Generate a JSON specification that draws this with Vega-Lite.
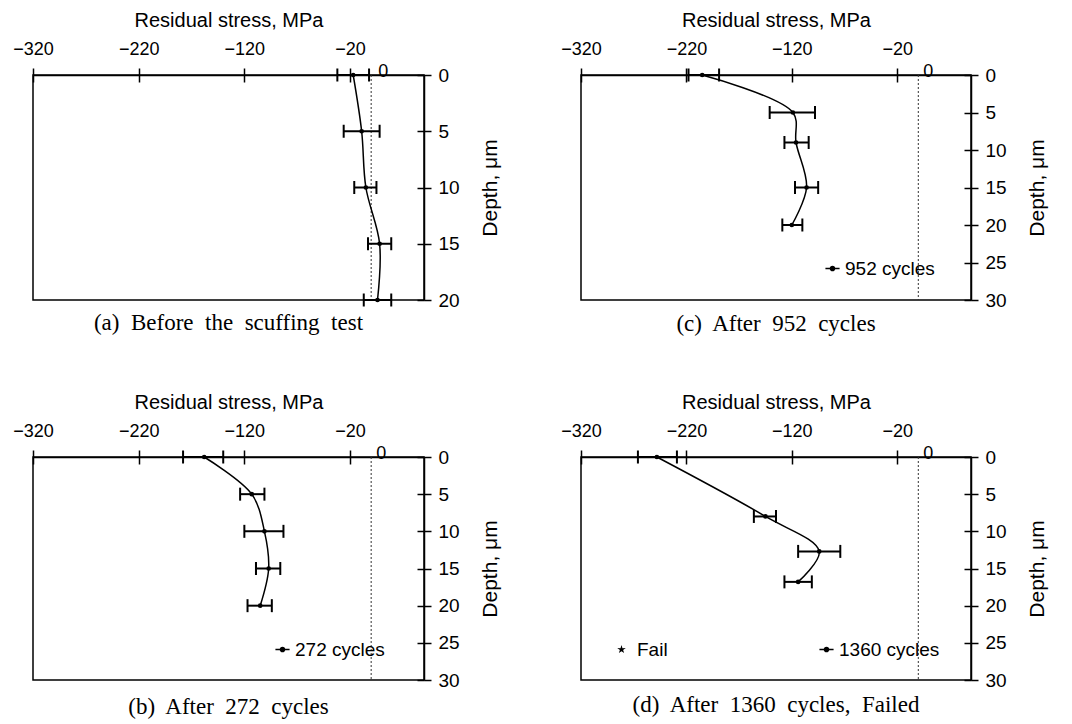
{
  "$schema": "https://vega.github.io/schema/vega-lite/v6.json",
  "padding": {"left": 11, "top": 9, "right": 5, "bottom": 5},
  "config": {
    "view": {"stroke": "black", "strokeWidth": 1.5},
    "font": "Liberation Sans",
    "axis": {"labelFont": "Liberation Sans", "titleFont": "Liberation Sans", "labelFontSize": 18, "titleFontSize": 20, "titleFontWeight": "normal", "labelColor": "black", "titleColor": "black", "tickColor": "black", "domainColor": "black", "ticks": true, "tickWidth": 1.5, "domainWidth": 1.5, "zindex": 1, "grid": true, "gridDash": [7, 1000], "gridColor": "black", "gridWidth": 1.5, "gridOpacity": 1},
    "axisX": {"labelFlush": false, "tickSize": 7, "labelPadding": 10, "titlePadding": 10},
    "axisY": {"labelFontSize": 19, "titleFontSize": 21, "tickSize": 7, "labelPadding": 7, "titlePadding": 20, "titleAngle": 270, "titleBaseline": "top"},
    "legend": {"labelFont": "Liberation Sans", "labelFontSize": 19, "labelColor": "black"}
  },
  "datasets": {
    "a": [
      {"depth": 0, "stress": -17, "lo": -32, "hi": -2},
      {"depth": 5, "stress": -9, "lo": -26, "hi": 8},
      {"depth": 10, "stress": -5, "lo": -16, "hi": 5},
      {"depth": 15, "stress": 8, "lo": -3, "hi": 19},
      {"depth": 20, "stress": 6, "lo": -7, "hi": 19}
    ],
    "b": [
      {"depth": 0, "stress": -158, "lo": -178, "hi": -140, "series": "272 cycles"},
      {"depth": 5, "stress": -113, "lo": -124, "hi": -101, "series": "272 cycles"},
      {"depth": 10, "stress": -101, "lo": -120, "hi": -83, "series": "272 cycles"},
      {"depth": 15, "stress": -97, "lo": -109, "hi": -86, "series": "272 cycles"},
      {"depth": 20, "stress": -105, "lo": -117, "hi": -94, "series": "272 cycles"}
    ],
    "c": [
      {"depth": 0, "stress": -205, "lo": -218, "hi": -189, "series": "952 cycles"},
      {"depth": 5, "stress": -119, "lo": -141, "hi": -98, "series": "952 cycles"},
      {"depth": 9, "stress": -116, "lo": -127, "hi": -104, "series": "952 cycles"},
      {"depth": 15, "stress": -106, "lo": -117, "hi": -95, "series": "952 cycles"},
      {"depth": 20, "stress": -120, "lo": -129, "hi": -110, "series": "952 cycles"}
    ],
    "d": [
      {"depth": 0, "stress": -248, "lo": -266, "hi": -229, "series": "1360 cycles"},
      {"depth": 8, "stress": -145, "lo": -156, "hi": -135, "series": "1360 cycles"},
      {"depth": 12.7, "stress": -94, "lo": -114, "hi": -74, "series": "1360 cycles"},
      {"depth": 16.8, "stress": -114, "lo": -127, "hi": -101, "series": "1360 cycles"}
    ],
    "zero": [{"ref": 0, "label": "0"}]
  },
  "columns": 2,
  "spacing": {"row": 54, "column": 58},
  "resolve": {"scale": {"x": "independent", "y": "independent", "color": "independent", "shape": "independent"}},
  "concat": [
    {
      "width": 391, "height": 225,
      "data": {"name": "a"},
      "title": {"text": "(a)\u00a0 Before\u00a0 the\u00a0 scuffing\u00a0 test", "orient": "bottom", "font": "Liberation Serif", "fontSize": 23, "fontWeight": "normal", "frame": "group", "anchor": "middle", "offset": 1, "color": "black"},
      "layer": [
        {"data": {"name": "zero"}, "mark": {"type": "rule", "strokeDash": [2, 2], "strokeWidth": 1, "color": "#333"}, "encoding": {"x": {"field": "ref", "type": "quantitative", "scale": {"domain": [-320, 50], "nice": false, "zero": false}, "axis": {"orient": "top", "values": [-320, -220, -120, -20], "title": "Residual stress, MPa", "encode": {"ticks": {"update": {"y2": {"value": 7}}}}}}}},
        {"mark": {"type": "line", "interpolate": "catmull-rom", "color": "black", "strokeWidth": 1.5}, "encoding": {"x": {"field": "stress", "type": "quantitative", "scale": {"domain": [-320, 50], "nice": false, "zero": false}, "axis": {"orient": "top", "values": [-320, -220, -120, -20], "title": "Residual stress, MPa", "encode": {"ticks": {"update": {"y2": {"value": 7}}}}}}, "y": {"field": "depth", "type": "quantitative", "scale": {"domain": [0, 20], "reverse": true, "nice": false, "zero": false}, "axis": {"orient": "right", "values": [0, 5, 10, 15, 20], "title": "Depth, \u03bcm", "encode": {"ticks": {"update": {"x2": {"value": -7}}}}}}, "order": {"field": "depth", "type": "quantitative"}}},
        {"mark": {"type": "rule", "color": "black", "strokeWidth": 2}, "encoding": {"x": {"field": "lo", "type": "quantitative", "scale": {"domain": [-320, 50], "nice": false, "zero": false}, "axis": {"orient": "top", "values": [-320, -220, -120, -20], "title": "Residual stress, MPa", "encode": {"ticks": {"update": {"y2": {"value": 7}}}}}}, "x2": {"field": "hi"}, "y": {"field": "depth", "type": "quantitative", "scale": {"domain": [0, 20], "reverse": true, "nice": false, "zero": false}, "axis": {"orient": "right", "values": [0, 5, 10, 15, 20], "title": "Depth, \u03bcm", "encode": {"ticks": {"update": {"x2": {"value": -7}}}}}}}},
        {"mark": {"type": "point", "shape": "M0,-1V1", "size": 169, "strokeWidth": 2, "color": "black", "opacity": 1}, "encoding": {"x": {"field": "lo", "type": "quantitative", "scale": {"domain": [-320, 50], "nice": false, "zero": false}, "axis": {"orient": "top", "values": [-320, -220, -120, -20], "title": "Residual stress, MPa", "encode": {"ticks": {"update": {"y2": {"value": 7}}}}}}, "y": {"field": "depth", "type": "quantitative", "scale": {"domain": [0, 20], "reverse": true, "nice": false, "zero": false}, "axis": {"orient": "right", "values": [0, 5, 10, 15, 20], "title": "Depth, \u03bcm", "encode": {"ticks": {"update": {"x2": {"value": -7}}}}}}}},
        {"mark": {"type": "point", "shape": "M0,-1V1", "size": 169, "strokeWidth": 2, "color": "black", "opacity": 1}, "encoding": {"x": {"field": "hi", "type": "quantitative", "scale": {"domain": [-320, 50], "nice": false, "zero": false}, "axis": {"orient": "top", "values": [-320, -220, -120, -20], "title": "Residual stress, MPa", "encode": {"ticks": {"update": {"y2": {"value": 7}}}}}}, "y": {"field": "depth", "type": "quantitative", "scale": {"domain": [0, 20], "reverse": true, "nice": false, "zero": false}, "axis": {"orient": "right", "values": [0, 5, 10, 15, 20], "title": "Depth, \u03bcm", "encode": {"ticks": {"update": {"x2": {"value": -7}}}}}}}},
        {"mark": {"type": "point", "filled": true, "size": 22, "color": "black", "opacity": 1}, "encoding": {"x": {"field": "stress", "type": "quantitative", "scale": {"domain": [-320, 50], "nice": false, "zero": false}, "axis": {"orient": "top", "values": [-320, -220, -120, -20], "title": "Residual stress, MPa", "encode": {"ticks": {"update": {"y2": {"value": 7}}}}}}, "y": {"field": "depth", "type": "quantitative", "scale": {"domain": [0, 20], "reverse": true, "nice": false, "zero": false}, "axis": {"orient": "right", "values": [0, 5, 10, 15, 20], "title": "Depth, \u03bcm", "encode": {"ticks": {"update": {"x2": {"value": -7}}}}}}}},
        {"data": {"name": "zero"}, "mark": {"type": "text", "dx": 12, "dy": -3, "fontSize": 18, "font": "Liberation Sans", "baseline": "middle", "color": "black"}, "encoding": {"text": {"field": "label"}, "x": {"field": "ref", "type": "quantitative", "scale": {"domain": [-320, 50], "nice": false, "zero": false}, "axis": {"orient": "top", "values": [-320, -220, -120, -20], "title": "Residual stress, MPa", "encode": {"ticks": {"update": {"y2": {"value": 7}}}}}}, "y": {"field": "ref", "type": "quantitative", "scale": {"domain": [0, 20], "reverse": true, "nice": false, "zero": false}, "axis": {"orient": "right", "values": [0, 5, 10, 15, 20], "title": "Depth, \u03bcm", "encode": {"ticks": {"update": {"x2": {"value": -7}}}}}}}}
      ]
    },
    {
      "width": 390, "height": 225,
      "data": {"name": "c"},
      "title": {"text": "(c)\u00a0 After\u00a0 952\u00a0 cycles", "orient": "bottom", "font": "Liberation Serif", "fontSize": 23, "fontWeight": "normal", "frame": "group", "anchor": "middle", "offset": 3, "color": "black"},
      "layer": [
        {"data": {"name": "zero"}, "mark": {"type": "rule", "strokeDash": [2, 2], "strokeWidth": 1, "color": "#333"}, "encoding": {"x": {"field": "ref", "type": "quantitative", "scale": {"domain": [-320, 50], "nice": false, "zero": false}, "axis": {"orient": "top", "values": [-320, -220, -120, -20], "title": "Residual stress, MPa", "encode": {"ticks": {"update": {"y2": {"value": 7}}}}}}}},
        {"mark": {"type": "line", "interpolate": "catmull-rom", "strokeWidth": 1.5}, "encoding": {"x": {"field": "stress", "type": "quantitative", "scale": {"domain": [-320, 50], "nice": false, "zero": false}, "axis": {"orient": "top", "values": [-320, -220, -120, -20], "title": "Residual stress, MPa", "encode": {"ticks": {"update": {"y2": {"value": 7}}}}}}, "y": {"field": "depth", "type": "quantitative", "scale": {"domain": [0, 30], "reverse": true, "nice": false, "zero": false}, "axis": {"orient": "right", "values": [0, 5, 10, 15, 20, 25, 30], "title": "Depth, \u03bcm", "encode": {"ticks": {"update": {"x2": {"value": -7}}}}}}, "order": {"field": "depth", "type": "quantitative"}, "color": {"field": "series", "type": "nominal", "scale": {"range": ["black"]}, "legend": {"orient": "none", "legendX": 242, "legendY": 184, "title": null, "symbolType": "M-1,0H1M0.3,0A0.3,0.3,0,1,1,-0.3,0A0.3,0.3,0,1,1,0.3,0Z", "symbolSize": 200, "labelOffset": 3, "encode": {"symbols": {"update": {"fill": {"value": "black"}, "stroke": {"value": "black"}, "strokeWidth": {"value": 1.5}, "opacity": {"value": 1}}}}}}}},
        {"mark": {"type": "rule", "color": "black", "strokeWidth": 2}, "encoding": {"x": {"field": "lo", "type": "quantitative", "scale": {"domain": [-320, 50], "nice": false, "zero": false}, "axis": {"orient": "top", "values": [-320, -220, -120, -20], "title": "Residual stress, MPa", "encode": {"ticks": {"update": {"y2": {"value": 7}}}}}}, "x2": {"field": "hi"}, "y": {"field": "depth", "type": "quantitative", "scale": {"domain": [0, 30], "reverse": true, "nice": false, "zero": false}, "axis": {"orient": "right", "values": [0, 5, 10, 15, 20, 25, 30], "title": "Depth, \u03bcm", "encode": {"ticks": {"update": {"x2": {"value": -7}}}}}}}},
        {"mark": {"type": "point", "shape": "M0,-1V1", "size": 169, "strokeWidth": 2, "color": "black", "opacity": 1}, "encoding": {"x": {"field": "lo", "type": "quantitative", "scale": {"domain": [-320, 50], "nice": false, "zero": false}, "axis": {"orient": "top", "values": [-320, -220, -120, -20], "title": "Residual stress, MPa", "encode": {"ticks": {"update": {"y2": {"value": 7}}}}}}, "y": {"field": "depth", "type": "quantitative", "scale": {"domain": [0, 30], "reverse": true, "nice": false, "zero": false}, "axis": {"orient": "right", "values": [0, 5, 10, 15, 20, 25, 30], "title": "Depth, \u03bcm", "encode": {"ticks": {"update": {"x2": {"value": -7}}}}}}}},
        {"mark": {"type": "point", "shape": "M0,-1V1", "size": 169, "strokeWidth": 2, "color": "black", "opacity": 1}, "encoding": {"x": {"field": "hi", "type": "quantitative", "scale": {"domain": [-320, 50], "nice": false, "zero": false}, "axis": {"orient": "top", "values": [-320, -220, -120, -20], "title": "Residual stress, MPa", "encode": {"ticks": {"update": {"y2": {"value": 7}}}}}}, "y": {"field": "depth", "type": "quantitative", "scale": {"domain": [0, 30], "reverse": true, "nice": false, "zero": false}, "axis": {"orient": "right", "values": [0, 5, 10, 15, 20, 25, 30], "title": "Depth, \u03bcm", "encode": {"ticks": {"update": {"x2": {"value": -7}}}}}}}},
        {"mark": {"type": "point", "filled": true, "size": 22, "color": "black", "opacity": 1}, "encoding": {"x": {"field": "stress", "type": "quantitative", "scale": {"domain": [-320, 50], "nice": false, "zero": false}, "axis": {"orient": "top", "values": [-320, -220, -120, -20], "title": "Residual stress, MPa", "encode": {"ticks": {"update": {"y2": {"value": 7}}}}}}, "y": {"field": "depth", "type": "quantitative", "scale": {"domain": [0, 30], "reverse": true, "nice": false, "zero": false}, "axis": {"orient": "right", "values": [0, 5, 10, 15, 20, 25, 30], "title": "Depth, \u03bcm", "encode": {"ticks": {"update": {"x2": {"value": -7}}}}}}}},
        {"data": {"name": "zero"}, "mark": {"type": "text", "dx": 10, "dy": -3, "fontSize": 18, "font": "Liberation Sans", "baseline": "middle", "color": "black"}, "encoding": {"text": {"field": "label"}, "x": {"field": "ref", "type": "quantitative", "scale": {"domain": [-320, 50], "nice": false, "zero": false}, "axis": {"orient": "top", "values": [-320, -220, -120, -20], "title": "Residual stress, MPa", "encode": {"ticks": {"update": {"y2": {"value": 7}}}}}}, "y": {"field": "ref", "type": "quantitative", "scale": {"domain": [0, 30], "reverse": true, "nice": false, "zero": false}, "axis": {"orient": "right", "values": [0, 5, 10, 15, 20, 25, 30], "title": "Depth, \u03bcm", "encode": {"ticks": {"update": {"x2": {"value": -7}}}}}}}}
      ]
    },
    {
      "width": 391, "height": 223,
      "data": {"name": "b"},
      "title": {"text": "(b)\u00a0 After\u00a0 272\u00a0 cycles", "orient": "bottom", "font": "Liberation Serif", "fontSize": 23, "fontWeight": "normal", "frame": "group", "anchor": "middle", "offset": 6, "color": "black"},
      "layer": [
        {"data": {"name": "zero"}, "mark": {"type": "rule", "strokeDash": [2, 2], "strokeWidth": 1, "color": "#333"}, "encoding": {"x": {"field": "ref", "type": "quantitative", "scale": {"domain": [-320, 50], "nice": false, "zero": false}, "axis": {"orient": "top", "values": [-320, -220, -120, -20], "title": "Residual stress, MPa", "encode": {"ticks": {"update": {"y2": {"value": 7}}}}}}}},
        {"mark": {"type": "line", "interpolate": "catmull-rom", "strokeWidth": 1.5}, "encoding": {"x": {"field": "stress", "type": "quantitative", "scale": {"domain": [-320, 50], "nice": false, "zero": false}, "axis": {"orient": "top", "values": [-320, -220, -120, -20], "title": "Residual stress, MPa", "encode": {"ticks": {"update": {"y2": {"value": 7}}}}}}, "y": {"field": "depth", "type": "quantitative", "scale": {"domain": [0, 30], "reverse": true, "nice": false, "zero": false}, "axis": {"orient": "right", "values": [0, 5, 10, 15, 20, 25, 30], "title": "Depth, \u03bcm", "encode": {"ticks": {"update": {"x2": {"value": -7}}}}}}, "order": {"field": "depth", "type": "quantitative"}, "color": {"field": "series", "type": "nominal", "scale": {"range": ["black"]}, "legend": {"orient": "none", "legendX": 240, "legendY": 183, "title": null, "symbolType": "M-1,0H1M0.3,0A0.3,0.3,0,1,1,-0.3,0A0.3,0.3,0,1,1,0.3,0Z", "symbolSize": 200, "labelOffset": 3, "encode": {"symbols": {"update": {"fill": {"value": "black"}, "stroke": {"value": "black"}, "strokeWidth": {"value": 1.5}, "opacity": {"value": 1}}}}}}}},
        {"mark": {"type": "rule", "color": "black", "strokeWidth": 2}, "encoding": {"x": {"field": "lo", "type": "quantitative", "scale": {"domain": [-320, 50], "nice": false, "zero": false}, "axis": {"orient": "top", "values": [-320, -220, -120, -20], "title": "Residual stress, MPa", "encode": {"ticks": {"update": {"y2": {"value": 7}}}}}}, "x2": {"field": "hi"}, "y": {"field": "depth", "type": "quantitative", "scale": {"domain": [0, 30], "reverse": true, "nice": false, "zero": false}, "axis": {"orient": "right", "values": [0, 5, 10, 15, 20, 25, 30], "title": "Depth, \u03bcm", "encode": {"ticks": {"update": {"x2": {"value": -7}}}}}}}},
        {"mark": {"type": "point", "shape": "M0,-1V1", "size": 169, "strokeWidth": 2, "color": "black", "opacity": 1}, "encoding": {"x": {"field": "lo", "type": "quantitative", "scale": {"domain": [-320, 50], "nice": false, "zero": false}, "axis": {"orient": "top", "values": [-320, -220, -120, -20], "title": "Residual stress, MPa", "encode": {"ticks": {"update": {"y2": {"value": 7}}}}}}, "y": {"field": "depth", "type": "quantitative", "scale": {"domain": [0, 30], "reverse": true, "nice": false, "zero": false}, "axis": {"orient": "right", "values": [0, 5, 10, 15, 20, 25, 30], "title": "Depth, \u03bcm", "encode": {"ticks": {"update": {"x2": {"value": -7}}}}}}}},
        {"mark": {"type": "point", "shape": "M0,-1V1", "size": 169, "strokeWidth": 2, "color": "black", "opacity": 1}, "encoding": {"x": {"field": "hi", "type": "quantitative", "scale": {"domain": [-320, 50], "nice": false, "zero": false}, "axis": {"orient": "top", "values": [-320, -220, -120, -20], "title": "Residual stress, MPa", "encode": {"ticks": {"update": {"y2": {"value": 7}}}}}}, "y": {"field": "depth", "type": "quantitative", "scale": {"domain": [0, 30], "reverse": true, "nice": false, "zero": false}, "axis": {"orient": "right", "values": [0, 5, 10, 15, 20, 25, 30], "title": "Depth, \u03bcm", "encode": {"ticks": {"update": {"x2": {"value": -7}}}}}}}},
        {"mark": {"type": "point", "filled": true, "size": 22, "color": "black", "opacity": 1}, "encoding": {"x": {"field": "stress", "type": "quantitative", "scale": {"domain": [-320, 50], "nice": false, "zero": false}, "axis": {"orient": "top", "values": [-320, -220, -120, -20], "title": "Residual stress, MPa", "encode": {"ticks": {"update": {"y2": {"value": 7}}}}}}, "y": {"field": "depth", "type": "quantitative", "scale": {"domain": [0, 30], "reverse": true, "nice": false, "zero": false}, "axis": {"orient": "right", "values": [0, 5, 10, 15, 20, 25, 30], "title": "Depth, \u03bcm", "encode": {"ticks": {"update": {"x2": {"value": -7}}}}}}}},
        {"data": {"name": "zero"}, "mark": {"type": "text", "dx": 10, "dy": -3, "fontSize": 18, "font": "Liberation Sans", "baseline": "middle", "color": "black"}, "encoding": {"text": {"field": "label"}, "x": {"field": "ref", "type": "quantitative", "scale": {"domain": [-320, 50], "nice": false, "zero": false}, "axis": {"orient": "top", "values": [-320, -220, -120, -20], "title": "Residual stress, MPa", "encode": {"ticks": {"update": {"y2": {"value": 7}}}}}}, "y": {"field": "ref", "type": "quantitative", "scale": {"domain": [0, 30], "reverse": true, "nice": false, "zero": false}, "axis": {"orient": "right", "values": [0, 5, 10, 15, 20, 25, 30], "title": "Depth, \u03bcm", "encode": {"ticks": {"update": {"x2": {"value": -7}}}}}}}}
      ]
    },
    {
      "width": 390, "height": 223,
      "data": {"name": "d"},
      "title": {"text": "(d)\u00a0 After\u00a0 1360\u00a0 cycles,\u00a0 Failed", "orient": "bottom", "font": "Liberation Serif", "fontSize": 23, "fontWeight": "normal", "frame": "group", "anchor": "middle", "offset": 4, "color": "black"},
      "layer": [
        {"data": {"name": "zero"}, "mark": {"type": "rule", "strokeDash": [2, 2], "strokeWidth": 1, "color": "#333"}, "encoding": {"x": {"field": "ref", "type": "quantitative", "scale": {"domain": [-320, 50], "nice": false, "zero": false}, "axis": {"orient": "top", "values": [-320, -220, -120, -20], "title": "Residual stress, MPa", "encode": {"ticks": {"update": {"y2": {"value": 7}}}}}}}},
        {"mark": {"type": "line", "interpolate": "catmull-rom", "strokeWidth": 1.5}, "encoding": {"x": {"field": "stress", "type": "quantitative", "scale": {"domain": [-320, 50], "nice": false, "zero": false}, "axis": {"orient": "top", "values": [-320, -220, -120, -20], "title": "Residual stress, MPa", "encode": {"ticks": {"update": {"y2": {"value": 7}}}}}}, "y": {"field": "depth", "type": "quantitative", "scale": {"domain": [0, 30], "reverse": true, "nice": false, "zero": false}, "axis": {"orient": "right", "values": [0, 5, 10, 15, 20, 25, 30], "title": "Depth, \u03bcm", "encode": {"ticks": {"update": {"x2": {"value": -7}}}}}}, "order": {"field": "depth", "type": "quantitative"}, "color": {"field": "series", "type": "nominal", "scale": {"range": ["black"]}, "legend": {"orient": "none", "legendX": 236, "legendY": 183, "title": null, "symbolType": "M-1,0H1M0.3,0A0.3,0.3,0,1,1,-0.3,0A0.3,0.3,0,1,1,0.3,0Z", "symbolSize": 200, "labelOffset": 3, "encode": {"symbols": {"update": {"fill": {"value": "black"}, "stroke": {"value": "black"}, "strokeWidth": {"value": 1.5}, "opacity": {"value": 1}}}}}}}},
        {"mark": {"type": "rule", "color": "black", "strokeWidth": 2}, "encoding": {"x": {"field": "lo", "type": "quantitative", "scale": {"domain": [-320, 50], "nice": false, "zero": false}, "axis": {"orient": "top", "values": [-320, -220, -120, -20], "title": "Residual stress, MPa", "encode": {"ticks": {"update": {"y2": {"value": 7}}}}}}, "x2": {"field": "hi"}, "y": {"field": "depth", "type": "quantitative", "scale": {"domain": [0, 30], "reverse": true, "nice": false, "zero": false}, "axis": {"orient": "right", "values": [0, 5, 10, 15, 20, 25, 30], "title": "Depth, \u03bcm", "encode": {"ticks": {"update": {"x2": {"value": -7}}}}}}}},
        {"mark": {"type": "point", "shape": "M0,-1V1", "size": 169, "strokeWidth": 2, "color": "black", "opacity": 1}, "encoding": {"x": {"field": "lo", "type": "quantitative", "scale": {"domain": [-320, 50], "nice": false, "zero": false}, "axis": {"orient": "top", "values": [-320, -220, -120, -20], "title": "Residual stress, MPa", "encode": {"ticks": {"update": {"y2": {"value": 7}}}}}}, "y": {"field": "depth", "type": "quantitative", "scale": {"domain": [0, 30], "reverse": true, "nice": false, "zero": false}, "axis": {"orient": "right", "values": [0, 5, 10, 15, 20, 25, 30], "title": "Depth, \u03bcm", "encode": {"ticks": {"update": {"x2": {"value": -7}}}}}}}},
        {"mark": {"type": "point", "shape": "M0,-1V1", "size": 169, "strokeWidth": 2, "color": "black", "opacity": 1}, "encoding": {"x": {"field": "hi", "type": "quantitative", "scale": {"domain": [-320, 50], "nice": false, "zero": false}, "axis": {"orient": "top", "values": [-320, -220, -120, -20], "title": "Residual stress, MPa", "encode": {"ticks": {"update": {"y2": {"value": 7}}}}}}, "y": {"field": "depth", "type": "quantitative", "scale": {"domain": [0, 30], "reverse": true, "nice": false, "zero": false}, "axis": {"orient": "right", "values": [0, 5, 10, 15, 20, 25, 30], "title": "Depth, \u03bcm", "encode": {"ticks": {"update": {"x2": {"value": -7}}}}}}}},
        {"mark": {"type": "point", "filled": true, "size": 22, "color": "black", "opacity": 1}, "encoding": {"x": {"field": "stress", "type": "quantitative", "scale": {"domain": [-320, 50], "nice": false, "zero": false}, "axis": {"orient": "top", "values": [-320, -220, -120, -20], "title": "Residual stress, MPa", "encode": {"ticks": {"update": {"y2": {"value": 7}}}}}}, "y": {"field": "depth", "type": "quantitative", "scale": {"domain": [0, 30], "reverse": true, "nice": false, "zero": false}, "axis": {"orient": "right", "values": [0, 5, 10, 15, 20, 25, 30], "title": "Depth, \u03bcm", "encode": {"ticks": {"update": {"x2": {"value": -7}}}}}}}},
        {"data": {"name": "zero"}, "mark": {"type": "text", "dx": 10, "dy": -3, "fontSize": 18, "font": "Liberation Sans", "baseline": "middle", "color": "black"}, "encoding": {"text": {"field": "label"}, "x": {"field": "ref", "type": "quantitative", "scale": {"domain": [-320, 50], "nice": false, "zero": false}, "axis": {"orient": "top", "values": [-320, -220, -120, -20], "title": "Residual stress, MPa", "encode": {"ticks": {"update": {"y2": {"value": 7}}}}}}, "y": {"field": "ref", "type": "quantitative", "scale": {"domain": [0, 30], "reverse": true, "nice": false, "zero": false}, "axis": {"orient": "right", "values": [0, 5, 10, 15, 20, 25, 30], "title": "Depth, \u03bcm", "encode": {"ticks": {"update": {"x2": {"value": -7}}}}}}}},
        {"data": {"values": [{"status": "Fail", "ref": 0}]}, "mark": {"type": "point", "filled": true, "opacity": 0, "color": "black"}, "encoding": {"x": {"field": "ref", "type": "quantitative", "scale": {"domain": [-320, 50], "nice": false, "zero": false}, "axis": {"orient": "top", "values": [-320, -220, -120, -20], "title": "Residual stress, MPa", "encode": {"ticks": {"update": {"y2": {"value": 7}}}}}}, "y": {"field": "ref", "type": "quantitative", "scale": {"domain": [0, 30], "reverse": true, "nice": false, "zero": false}, "axis": {"orient": "right", "values": [0, 5, 10, 15, 20, 25, 30], "title": "Depth, \u03bcm", "encode": {"ticks": {"update": {"x2": {"value": -7}}}}}}, "shape": {"field": "status", "type": "nominal", "scale": {"domain": ["Fail"], "range": ["M0,-1L0.22,-0.3L0.95,-0.31L0.36,0.12L0.59,0.81L0,0.38L-0.59,0.81L-0.36,0.12L-0.95,-0.31L-0.22,-0.3Z"]}, "legend": {"orient": "none", "legendX": 31, "legendY": 183, "title": null, "symbolSize": 80, "labelOffset": 6, "encode": {"symbols": {"update": {"fill": {"value": "black"}, "stroke": {"value": "black"}, "opacity": {"value": 1}}}}}}}}
      ]
    }
  ]
}
